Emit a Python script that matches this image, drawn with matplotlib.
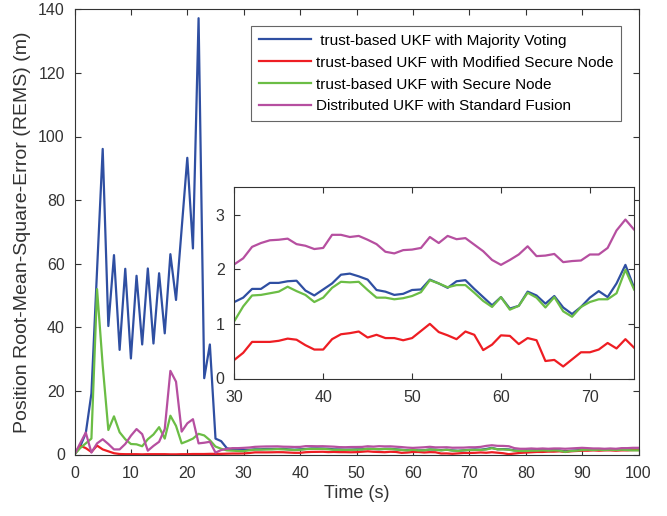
import matplotlib
matplotlib.use("Agg")
import matplotlib.pyplot as plt

plt.rcParams['font.family'] = ['Liberation Sans', 'DejaVu Sans']

time = list(range(101))

majority_voting = [
    0.0, 2.5, 6.7, 19.2, 58.0, 96.1, 40.4, 62.7, 32.9, 58.4,
    30.2, 56.2, 34.6, 58.5, 34.9, 57.0, 38.1, 63.0, 48.6, 71.0,
    93.3, 64.8, 137.2, 24.0, 34.6, 5.0, 4.2, 2.0, 1.5, 1.4,
    1.40, 1.48, 1.64, 1.64, 1.75, 1.75, 1.78, 1.79, 1.61, 1.52,
    1.63, 1.74, 1.90, 1.92, 1.87, 1.81, 1.62, 1.59, 1.53, 1.55,
    1.62, 1.63, 1.81, 1.74, 1.66, 1.78, 1.80, 1.64, 1.49, 1.34,
    1.49, 1.28, 1.33, 1.59, 1.52, 1.37, 1.51, 1.30, 1.18, 1.31,
    1.48, 1.60, 1.49, 1.74, 2.08, 1.65, 1.7, 1.6, 1.3, 1.2,
    1.3, 1.3, 1.4, 1.4, 1.3, 1.4, 1.3, 1.0, 1.2, 1.3,
    1.5, 1.6, 1.5, 1.6, 1.5, 1.6, 1.5, 1.6, 1.5, 1.5,
    1.5]

modified_secure = [
    0.3, 2.8, 2.0, 0.8, 2.8, 1.6, 1.0, 0.4, 0.15, 0.1,
    0.1, 0.1, 0.05, 0.1, 0.1, 0.1, 0.1, 0.05, 0.05, 0.1,
    0.1, 0.15, 0.15, 0.15, 0.2, 0.2, 0.2, 0.25, 0.3, 0.3,
    0.34, 0.47, 0.67, 0.67, 0.67, 0.69, 0.73, 0.71, 0.61, 0.53,
    0.53, 0.72, 0.81, 0.83, 0.86, 0.75, 0.80, 0.74, 0.74, 0.70,
    0.74, 0.87, 1.00, 0.85, 0.79, 0.72, 0.86, 0.80, 0.52, 0.62,
    0.79, 0.78, 0.63, 0.74, 0.70, 0.32, 0.34, 0.22, 0.35, 0.48,
    0.48, 0.53, 0.65, 0.55, 0.72, 0.56, 0.4, 0.1, 0.3, 0.5,
    0.6, 0.7, 0.8, 0.8, 0.9, 0.9, 1.0, 0.8, 1.0, 1.1,
    1.2, 1.2, 1.3, 1.2, 1.3, 1.3, 1.2, 1.3, 1.3, 1.4,
    1.4]

secure_node = [
    0.0, 2.0, 3.5, 5.0, 52.0, 28.0, 7.7, 12.0, 7.0, 4.8,
    3.3, 3.2, 2.6, 4.8, 6.3, 8.6, 5.0, 12.2, 9.0, 3.5,
    4.2, 5.0, 6.5, 6.0, 4.5, 2.5, 1.8, 1.3, 1.2, 1.1,
    1.05, 1.32, 1.52, 1.53, 1.56, 1.59, 1.68, 1.60, 1.53, 1.40,
    1.48, 1.66, 1.77, 1.76, 1.77, 1.62, 1.48, 1.48, 1.45, 1.47,
    1.51, 1.58, 1.80, 1.74, 1.67, 1.71, 1.71, 1.57, 1.42, 1.31,
    1.49, 1.26, 1.33, 1.57, 1.48, 1.30, 1.49, 1.23, 1.13, 1.31,
    1.40, 1.45, 1.45, 1.56, 1.99, 1.62, 1.6, 1.5, 1.2, 1.1,
    1.1, 1.2, 1.2, 1.3, 1.2, 1.3, 1.2, 0.8, 1.1, 1.2,
    1.4, 1.5, 1.4, 1.5, 1.4, 1.5, 1.4, 1.5, 1.4, 1.3,
    1.3]

standard_fusion = [
    0.0, 3.5, 6.9, 0.6, 3.5, 4.8, 3.3, 1.6, 1.6, 3.3,
    5.9, 8.0, 6.4, 1.2, 2.7, 4.0, 8.0, 26.3, 22.9, 7.2,
    9.8, 11.1, 3.5, 3.7, 4.0, 0.6, 1.4, 1.8, 2.0, 2.0,
    2.09, 2.20, 2.41, 2.48, 2.53, 2.54, 2.56, 2.46, 2.43, 2.37,
    2.39, 2.63, 2.63, 2.59, 2.61, 2.54, 2.46, 2.32, 2.29, 2.35,
    2.36, 2.39, 2.59, 2.48, 2.61, 2.55, 2.57, 2.45, 2.33, 2.17,
    2.08, 2.17, 2.27, 2.42, 2.24, 2.25, 2.28, 2.13, 2.15, 2.16,
    2.27, 2.27, 2.39, 2.71, 2.91, 2.72, 2.7, 2.6, 2.0, 1.8,
    1.8, 1.9, 1.8, 1.9, 1.8, 1.9, 1.9, 1.8, 1.9, 2.0,
    2.1, 2.0, 1.9, 1.9, 1.8, 1.9, 1.8, 2.0, 2.0, 2.1,
    2.1]

labels = [" trust-based UKF with Majority Voting",
          "trust-based UKF with Modified Secure Node",
          "trust-based UKF with Secure Node",
          "Distributed UKF with Standard Fusion"]
colors = ['#2F4FA2', '#EE1D23', '#6BBD45', '#B64FA0']
series = [majority_voting, modified_secure, secure_node, standard_fusion]

ink = '#333333'
lw = 1.6

fig = plt.figure(figsize=(6.67, 5.16), dpi=100)
ax = fig.add_axes([74.5/667, 1-454.5/516, 564/667, 445.2/516])
for s, c, l in zip(series, colors, labels):
    ax.plot(time, s, color=c, lw=lw, label=l)
ax.set_xlim(0, 100)
ax.set_ylim(0, 140)
ax.set_xticks(range(0, 101, 10))
ax.set_yticks(range(0, 141, 20))
ax.set_xlabel("Time (s)", fontsize=13, color=ink, labelpad=3)
ax.set_ylabel("Position Root-Mean-Square-Error (REMS) (m)", fontsize=14, color=ink, labelpad=5)


def style(a, fs):
    a.tick_params(direction='in', top=True, right=True, length=4, width=0.8,
                  colors=ink, labelsize=fs)
    a.tick_params(axis='y', pad=7)
    a.tick_params(axis='x', pad=8)
    for sp in a.spines.values():
        sp.set_color(ink)
        sp.set_linewidth(0.8)


style(ax, 11.5)

leg = ax.legend(loc='upper right', bbox_to_anchor=((621-74.5)/564, (454.5-26)/445.2),
                borderaxespad=0, fontsize=11, fancybox=False, framealpha=1,
                edgecolor='#666666', handlelength=3.4, handletextpad=0.35,
                labelspacing=0.52, borderpad=0.5)
leg.get_frame().set_linewidth(0.8)

ins = fig.add_axes([234.3/667, 1-378.5/516, 400/667, 191.2/516])
for s, c in zip(series, colors):
    ins.plot(time, s, color=c, lw=lw)
ins.set_xlim(30, 75)
ins.set_ylim(0, 3.5)
ins.set_xticks(range(30, 71, 10))
ins.set_yticks([0, 1, 2, 3])
style(ins, 11.5)

fig.savefig("out.png", dpi=100)
